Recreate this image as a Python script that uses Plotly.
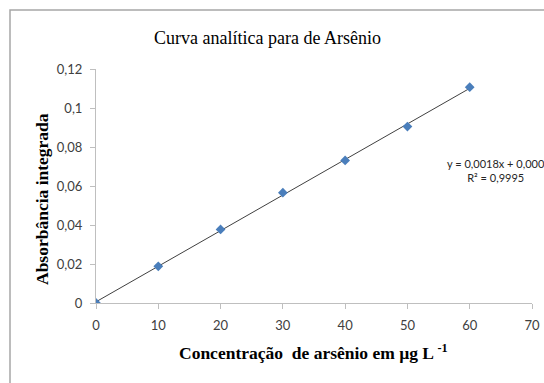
import numpy as np
import plotly.graph_objects as go

# Data
concentracao = [0, 10, 20, 30, 40, 50, 60]
absorbancia = [0.0, 0.0188, 0.0377, 0.0566, 0.0731, 0.0905, 0.1107]
y_tick_vals = [0, 0.02, 0.04, 0.06, 0.08, 0.1, 0.12]
y_tick_labels = ["0", "0,02", "0,04", "0,06", "0,08", "0,1", "0,12"]
x_tick_vals = [0, 10, 20, 30, 40, 50, 60, 70]
equation_text = "y = 0,0018x + 0,000<br>R² = 0,9995"

# Linear trendline from the data
slope, intercept = np.polyfit(concentracao, absorbancia, 1)
trend_x = [concentracao[0], concentracao[-1]]
trend_y = [slope * x + intercept for x in trend_x]

fig = go.Figure()
fig.add_trace(go.Scatter(x=trend_x, y=trend_y, mode="lines",
                         line=dict(color="#404040", width=1), hoverinfo="skip",
                         showlegend=False))
fig.add_trace(go.Scatter(x=concentracao, y=absorbancia, mode="markers",
                         marker=dict(symbol="diamond", size=7.5, color="#4A7EBB"),
                         showlegend=False))

L, R, T, B = 96, 12, 69, 80
W, H = 544, 383
pw, ph = W - L - R, H - T - B

def px(xpix):
    return (xpix - L) / pw

def py(ypix):
    return (H - B - ypix) / ph

fig.update_layout(
    width=W, height=H,
    margin=dict(l=L, r=R, t=T, b=B, autoexpand=False),
    plot_bgcolor="white", paper_bgcolor="white",
    font=dict(family="Lato, Open Sans, sans-serif", size=13, color="#404040"),
    xaxis=dict(range=[0, 70], tickvals=x_tick_vals, showgrid=False, zeroline=False,
               showline=True, linecolor="#BFBFBF", linewidth=1, automargin=False,
               ticks="outside", ticklen=5, tickcolor="#BFBFBF", ticklabelstandoff=5),
    yaxis=dict(range=[0, 0.12], tickvals=y_tick_vals, ticktext=y_tick_labels,
               showgrid=False, zeroline=False, automargin=False,
               showline=True, linecolor="#BFBFBF", linewidth=1,
               ticks="outside", ticklen=5, tickcolor="#BFBFBF", ticklabelstandoff=5),
    shapes=[dict(type="rect", xref="paper", yref="paper",
                 x0=px(10), y0=py(420), x1=px(560), y1=py(10),
                 line=dict(color="#A6A6A6", width=1.5), fillcolor="rgba(0,0,0,0)",
                 layer="below")],
    annotations=[
        dict(text="Curva analítica para de Arsênio", xref="paper", yref="paper",
             x=px(267), y=py(38), showarrow=False, xanchor="center", yanchor="middle",
             font=dict(family="Liberation Serif, Times New Roman, serif", size=18, color="#000000")),
        dict(text="<b>Absorbância integrada</b>", xref="paper", yref="paper",
             x=px(42), y=py(199), showarrow=False, textangle=-90,
             xanchor="center", yanchor="middle",
             font=dict(family="Liberation Serif, Times New Roman, serif", size=17.5, color="#000000")),
        dict(text="<b>Concentração  de arsênio em µg L <sup>-1</sup></b>", xref="paper", yref="paper",
             x=px(313), y=py(352), showarrow=False, xanchor="center", yanchor="middle",
             font=dict(family="Liberation Serif, Times New Roman, serif", size=17.5, color="#000000")),
        dict(text=equation_text, xref="paper", yref="paper",
             x=px(496), y=py(170), showarrow=False, xanchor="center", yanchor="middle",
             align="center",
             font=dict(family="Lato, Open Sans, sans-serif", size=11, color="#262626")),
    ],
)

fig.write_html("out.html")
